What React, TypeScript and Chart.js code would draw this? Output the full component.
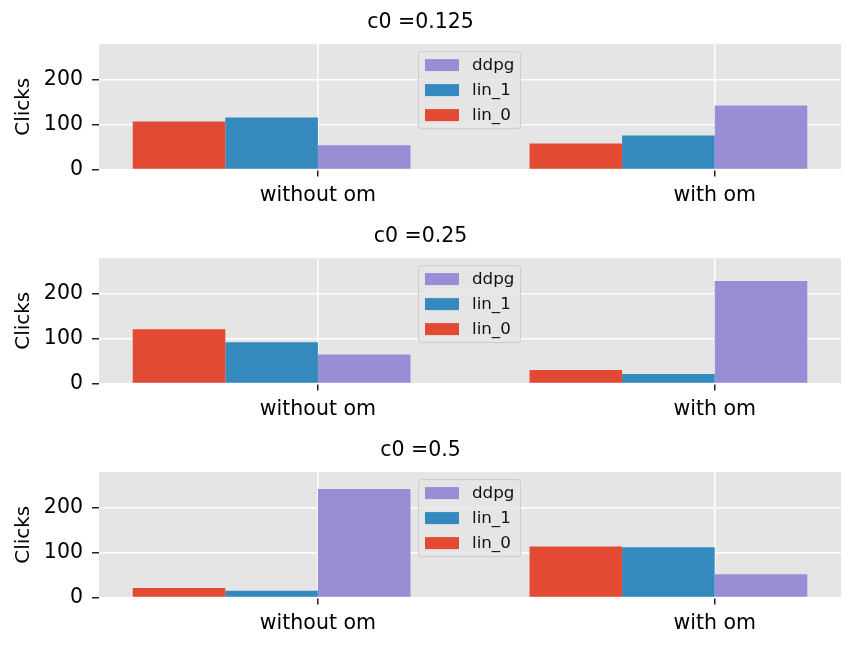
import React, { useEffect, useRef } from "react";
import { Chart, registerables } from "chart.js";

Chart.register(...registerables);

// ---- data ----
const categories = ["without om", "with om"];
const seriesNames = ["lin_0", "lin_1", "ddpg"];
const seriesColors = ["#E24A33", "#348ABD", "#988ED5"];
const panelTitles = ["c0 =0.125", "c0 =0.25", "c0 =0.5"];
const yTickValues = [0, 100, 200];
const yMax = 280;

const lin0_c0125 = [107, 58];
const lin1_c0125 = [116, 76];
const ddpg_c0125 = [54, 143];

const lin0_c025 = [121, 30];
const lin1_c025 = [92, 21];
const ddpg_c025 = [65, 229];

const lin0_c05 = [21, 114];
const lin1_c05 = [15, 112];
const ddpg_c05 = [242, 52];

const panelSeries = [
  [lin0_c0125, lin1_c0125, ddpg_c0125],
  [lin0_c025, lin1_c025, ddpg_c025],
  [lin0_c05, lin1_c05, ddpg_c05],
];

// ---- layout ----
const FONT = "'DejaVu Sans', 'Bitstream Vera Sans', sans-serif";
const GROUP = 0.7;
const BAR_W = GROUP / 3;
const SPAN = 1 + 3 * BAR_W;
const X_MIN = -2 * BAR_W - 0.05 * SPAN;
const X_MAX = 1 + BAR_W + 0.05 * SPAN;

const CANVAS_W = 865;
const CANVAS_H = 216;
const PANEL_TOPS = [0, 214, 428];

const bgPlugin = {
  id: "axbg",
  beforeDraw(chart: any) {
    const { ctx, chartArea } = chart;
    ctx.save();
    ctx.fillStyle = "#E5E5E5";
    ctx.fillRect(chartArea.left, chartArea.top, chartArea.right - chartArea.left, chartArea.bottom - chartArea.top);
    ctx.restore();
  },
};

const legendPlugin = {
  id: "innerLegend",
  afterDatasetsDraw(chart: any) {
    const { ctx, chartArea } = chart;
    const cx = (chartArea.left + chartArea.right) / 2;
    const top = chartArea.top + 7;
    const left = cx - 52;
    const w = 102;
    const h = 77;
    ctx.save();
    ctx.globalAlpha = 0.8;
    ctx.fillStyle = "#E5E5E5";
    ctx.strokeStyle = "#CCCCCC";
    ctx.lineWidth = 1;
    ctx.beginPath();
    if ((ctx as any).roundRect) (ctx as any).roundRect(left + 0.5, top + 0.5, w, h, 3);
    else ctx.rect(left + 0.5, top + 0.5, w, h);
    ctx.fill();
    ctx.globalAlpha = 1;
    ctx.stroke();
    const items = chart.data.datasets.slice().reverse();
    ctx.font = `16.7px ${FONT}`;
    ctx.textBaseline = "middle";
    ctx.textAlign = "left";
    items.forEach((ds: any, i: number) => {
      const cy = chartArea.top + 21 + i * 25;
      ctx.fillStyle = ds.backgroundColor;
      ctx.fillRect(cx - 45, cy - 6, 34, 12);
      ctx.fillStyle = "#111111";
      ctx.fillText(ds.label, cx + 2, cy + 1);
    });
    ctx.restore();
  },
};

function Panel({ index }: { index: number }) {
  const ref = useRef<HTMLCanvasElement>(null);
  useEffect(() => {
    const series = panelSeries[index];
    const datasets = seriesNames.map((name, s) => ({
      label: name,
      backgroundColor: seriesColors[s],
      borderWidth: 0,
      categoryPercentage: GROUP,
      barPercentage: 1,
      data: categories.map((_, c) => ({ x: c - BAR_W / 2, y: series[s][c] })),
    }));
    const chart = new Chart(ref.current as HTMLCanvasElement, {
      type: "bar",
      data: { datasets },
      options: {
        responsive: false,
        animation: false,
        devicePixelRatio: 1,
        layout: { padding: { left: 0, right: 24, top: 0, bottom: 0 } },
        plugins: {
          legend: { display: false },
          tooltip: { enabled: false },
          title: {
            display: true,
            text: panelTitles[index],
            color: "#000000",
            font: { family: FONT, size: 20.5, weight: "normal" },
            padding: { top: 10, bottom: 9.5 },
          },
        },
        scales: {
          x: {
            type: "linear",
            min: X_MIN,
            max: X_MAX,
            offset: false,
            border: { display: false },
            grid: {
              offset: false,
              color: "#FFFFFF",
              lineWidth: 1.5,
              tickColor: "#222222",
              tickLength: 7,
              tickWidth: 1.5,
            },
            afterBuildTicks: (scale: any) => {
              scale.ticks = categories.map((_, i) => ({ value: i }));
            },
            afterFit: (scale: any) => {
              scale.height = 46.5;
            },
            ticks: {
              color: "#000000",
              padding: 7,
              font: { family: FONT, size: 20.5 },
              maxRotation: 0,
              autoSkip: false,
              callback: (v: any) => categories[Math.round(Number(v))],
            },
          },
          y: {
            type: "linear",
            min: 0,
            max: yMax,
            border: { display: false },
            grid: {
              color: "#FFFFFF",
              lineWidth: 1.5,
              tickColor: "#222222",
              tickLength: 7,
              tickWidth: 1.5,
            },
            afterBuildTicks: (scale: any) => {
              scale.ticks = yTickValues.map((v) => ({ value: v }));
            },
            afterFit: (scale: any) => {
              scale.width = 99;
            },
            ticks: {
              color: "#000000",
              padding: 9,
              font: { family: FONT, size: 20.5 },
            },
            title: {
              display: true,
              text: "Clicks",
              color: "#000000",
              font: { family: FONT, size: 20 },
              padding: { top: 12, bottom: 0 },
            },
          },
        },
      },
      plugins: [bgPlugin, legendPlugin],
    } as any);
    return () => chart.destroy();
  }, [index]);
  return (
    <canvas
      ref={ref}
      width={CANVAS_W}
      height={CANVAS_H}
      style={{ position: "absolute", left: 0, top: PANEL_TOPS[index], display: "block" }}
    />
  );
}

export default function App() {
  return (
    <div style={{ position: "absolute", left: 0, top: 0, width: CANVAS_W, height: 648, background: "#FFFFFF" }}>
      {panelTitles.map((_, i) => (
        <Panel key={i} index={i} />
      ))}
    </div>
  );
}
